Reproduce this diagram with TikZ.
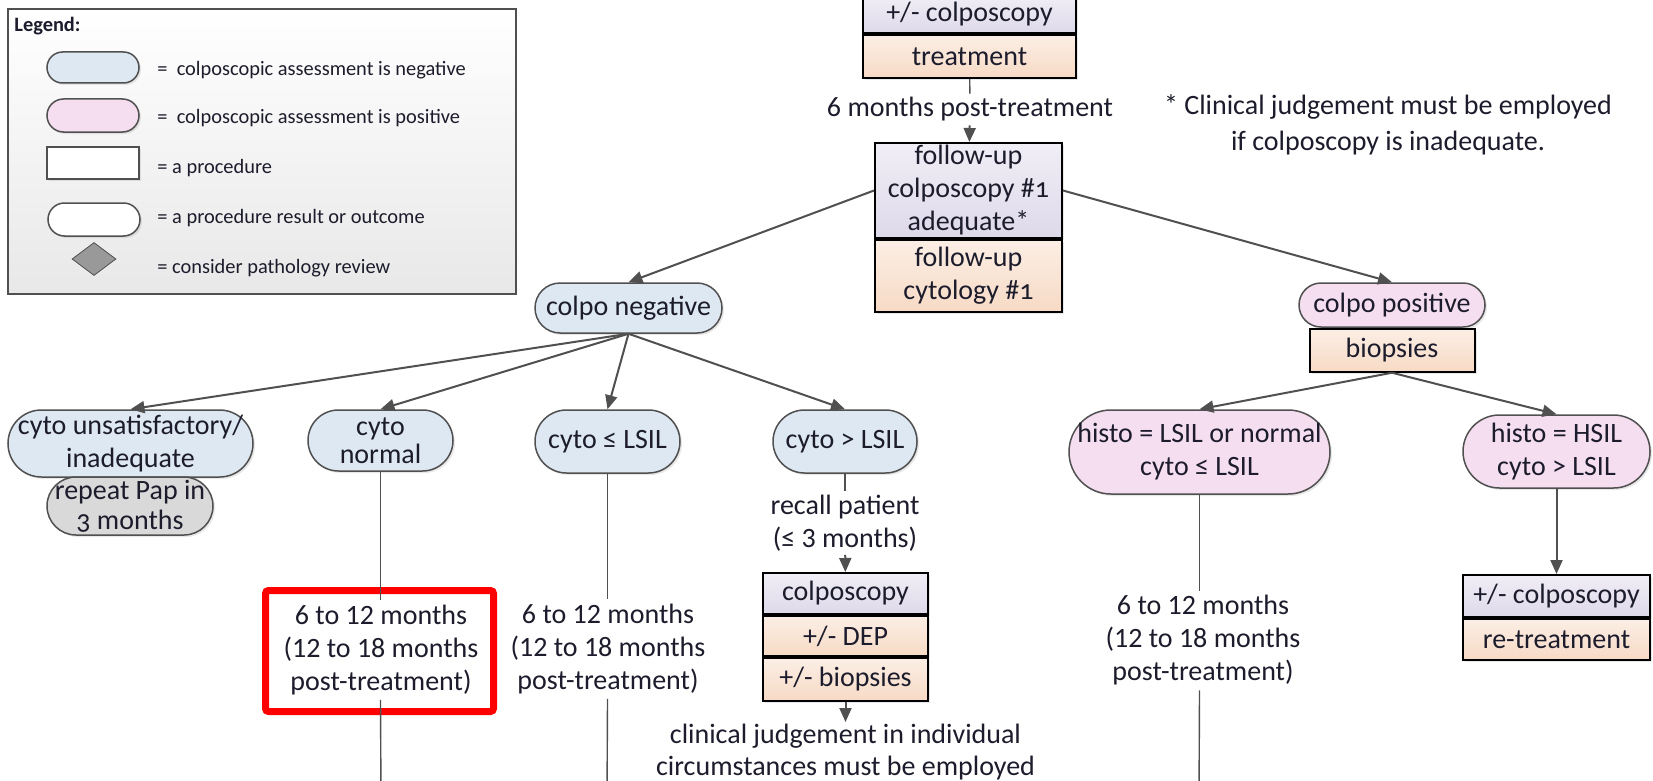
\documentclass[tikz,border=0pt]{standalone}
\usepackage{fontspec}
\setmainfont{Carlito}
\usetikzlibrary{arrows.meta,positioning,shapes.geometric,shadows}

\definecolor{negblue}{RGB}{222,232,242}
\definecolor{pospink}{RGB}{246,222,241}
\definecolor{lav}{RGB}{222,217,234}
\definecolor{peach}{RGB}{247,218,197}
\definecolor{repgray}{RGB}{217,217,217}
\definecolor{edgegray}{RGB}{80,80,80}
\definecolor{ink}{RGB}{28,28,44}
\newcommand{\osf}[1]{{\addfontfeature{Numbers=OldStyle}#1}}

\begin{document}
\begin{tikzpicture}[x=0.5pt,y=-0.5pt,>={Triangle[length=7pt,width=6pt]},
  every node/.style={text=ink,font=\fontsize{14}{16.5}\selectfont,align=center},
  pill/.style={rectangle,rounded corners=#1,draw=edgegray,line width=0.75pt,inner sep=1pt,
    drop shadow={opacity=0.18,shadow xshift=1pt,shadow yshift=-1pt}},
  pill/.default=12pt,
  bluepill/.style={pill=#1,fill=negblue}, bluepill/.default=12pt,
  pinkpill/.style={pill=#1,fill=pospink}, pinkpill/.default=12pt,
  procbox/.style={rectangle,draw=black,line width=1pt,inner sep=0pt,
    drop shadow={opacity=0.18,shadow xshift=1pt,shadow yshift=-1pt}},
  lavcell/.style={procbox,top color=lav!45,bottom color=lav},
  peachcell/.style={procbox,top color=peach!45,bottom color=peach},
  arrowline/.style={draw=edgegray,line width=1pt},
  vline/.style={draw=edgegray,line width=0.7pt},
  steptext/.style={inner sep=2.2pt},
  legtext/.style={anchor=west,inner sep=0pt,font=\fontsize{10.2}{12}\selectfont}]
\useasboundingbox (0,0) rectangle (1653,781);
\clip (0,0) rectangle (1653,781);
\fill[white] (0,0) rectangle (1653,781);

% legend
\shade[top color=white,bottom color=black!9,draw=edgegray,line width=1pt] (8,9) rectangle (516,294);
\node[legtext,font=\bfseries\fontsize{10.2}{12}\selectfont] (legtitle) at (14,26) {Legend:};
\node[bluepill=7.75pt,minimum width=46pt,minimum height=15.5pt] (kneg) at (93,67.5) {};
\node[pinkpill=8.25pt,minimum width=46pt,minimum height=16.5pt] (kpos) at (93,115.5) {};
\node[procbox,fill=white,draw=edgegray,minimum width=46pt,minimum height=16pt] (kproc) at (93,163) {};
\node[pill=8.25pt,fill=white,minimum width=46pt,minimum height=16.5pt] (kout) at (94,219.5) {};
\node[diamond,aspect=1.33,draw=edgegray,fill=black!40,inner sep=0pt,minimum width=22pt,minimum height=16.5pt] (kdia) at (94,259) {};
\node[legtext] (tneg) at (157,70) {=\ \ colposcopic assessment is negative};
\node[legtext] (tpos) at (157,118) {=\ \ colposcopic assessment is positive};
\node[legtext] (tproc) at (157,168) {= a procedure};
\node[legtext] (tout) at (157,218) {= a procedure result or outcome};
\node[legtext] (tdia) at (157,268) {= consider pathology review};

% treatment and first follow-up
\node[lavcell,minimum width=106.5pt,minimum height=18.5pt] (topcol) at (969.5,14.5) {+/- colposcopy};
\node[peachcell,minimum width=106.5pt,minimum height=21.5pt,below=0pt of topcol] (toptreat) {treatment};
\node[steptext,inner sep=1.8pt] (lbl6m) at (970,109.5) {6 months post-treatment};
\node[lavcell,minimum width=93.5pt,minimum height=47.5pt] (fucol) at (968.5,190.5) {follow-up\\colposcopy \#\osf{1}\\adequate*};
\node[peachcell,minimum width=93.5pt,minimum height=36pt,below=0pt of fucol] (fucyt) {follow-up\\cytology \#\osf{1}};
\node[font=\fontsize{14}{18}\selectfont] (note) at (1388,125) {* Clinical judgement must be employed\\if colposcopy is inadequate.};

\node[bluepill=12.5pt,minimum width=93.5pt,minimum height=25pt] (cneg) at (628.5,308) {colpo negative};
\node[pinkpill=11pt,minimum width=93pt,minimum height=22pt] (cpos) at (1392,305) {colpo positive};
\node[peachcell,minimum width=82.5pt,minimum height=21.5pt,below=0pt of cpos] (cbiop) {biopsies};

% colpo negative branch
\node[bluepill=16.75pt,minimum width=122.5pt,minimum height=33.5pt] (cunsat) at (130.5,443.5) {cyto unsatisfactory/\\inadequate};
\node[pill=14.5pt,fill=repgray,minimum width=83pt,minimum height=29pt,font=\fontsize{14}{15}\selectfont] (rpap) at (130,506) {repeat Pap in\\\osf{3} months};
\node[bluepill=15.25pt,minimum width=72.5pt,minimum height=30.5pt,font=\fontsize{14}{14}\selectfont] (cnorm) at (380.5,440.5) {cyto\\normal};
\node[bluepill=15.75pt,minimum width=72.5pt,minimum height=31.5pt] (cle) at (607.5,441.5) {cyto ≤ LSIL};
\node[bluepill=15.75pt,minimum width=72pt,minimum height=31.5pt] (cgt) at (845,441.5) {cyto > LSIL};

\node[steptext] (lnorm) at (381,650) {6 to 12 months\\(12 to 18 months\\post-treatment)};
\node[draw=red,line width=3.5pt,rounded corners=1.5pt,minimum width=114pt,minimum height=60.5pt] (hilite) at (379.5,651) {};
\node[steptext] (lle) at (608,649) {6 to 12 months\\(12 to 18 months\\post-treatment)};
\node[steptext,inner sep=1.6pt] (lrecall) at (845,523) {recall patient\\(≤ 3 months)};
\node[lavcell,minimum width=82.5pt,minimum height=20.5pt] (bcol) at (845.5,593.5) {colposcopy};
\node[peachcell,minimum width=82.5pt,minimum height=20pt,below=0pt of bcol] (bdep) {+/- DEP};
\node[peachcell,minimum width=82.5pt,minimum height=21.5pt,below=0pt of bdep] (bbiop) {+/- biopsies};
\node[steptext,inner sep=1pt,below=10pt of bbiop,font=\fontsize{14}{15.8}\selectfont] (lclin) {clinical judgement in individual\\circumstances must be employed};

% colpo positive branch
\node[pinkpill=21pt,minimum width=130.5pt,minimum height=42pt] (hlsil) at (1199.5,452) {histo = LSIL or normal\\cyto ≤ LSIL};
\node[pinkpill=18.25pt,minimum width=93.5pt,minimum height=36.5pt] (hhsil) at (1556.5,451.5) {histo = HSIL\\cyto > LSIL};
\node[steptext] (lhl) at (1203,640.5) {6 to 12 months\\(12 to 18 months\\post-treatment)};
\node[lavcell,minimum width=93.5pt,minimum height=21pt] (rcol) at (1556.5,596) {+/- colposcopy};
\node[peachcell,minimum width=93.5pt,minimum height=20.5pt,below=0pt of rcol] (rtreat) {re-treatment};

\coordinate (enorm) at (381,800); \coordinate (ele) at (607,800); \coordinate (ehl) at (1199,800);

\draw[vline] (toptreat) -- (lbl6m); \draw[arrowline,->] (lbl6m) -- (fucol);
\draw[arrowline,->] (fucol.west) -- (cneg.north); \draw[arrowline,->] (fucol.east) -- (cpos.north);
\foreach \t in {cunsat,cnorm,cle,cgt} \draw[arrowline,->] (cneg.south) -- (\t.north);
\foreach \t in {hlsil,hhsil} \draw[arrowline,->] (cbiop.south) -- (\t.north);
\draw[vline] (cnorm) -- (cnorm |- lnorm.north); \draw[vline] (cnorm |- lnorm.south) -- (enorm);
\draw[vline] (cle) -- (cle |- lle.north); \draw[vline] (cle |- lle.south) -- (ele);
\draw[vline] (cgt) -- (lrecall); \draw[arrowline,->] (lrecall) -- (bcol);
\draw[arrowline,->] (bbiop) -- (lclin);
\draw[vline] (hlsil) -- (hlsil |- lhl.north); \draw[vline] (hlsil |- lhl.south) -- (ehl);
\draw[arrowline,->] (hhsil) -- (rcol);
\end{tikzpicture}
\end{document}
